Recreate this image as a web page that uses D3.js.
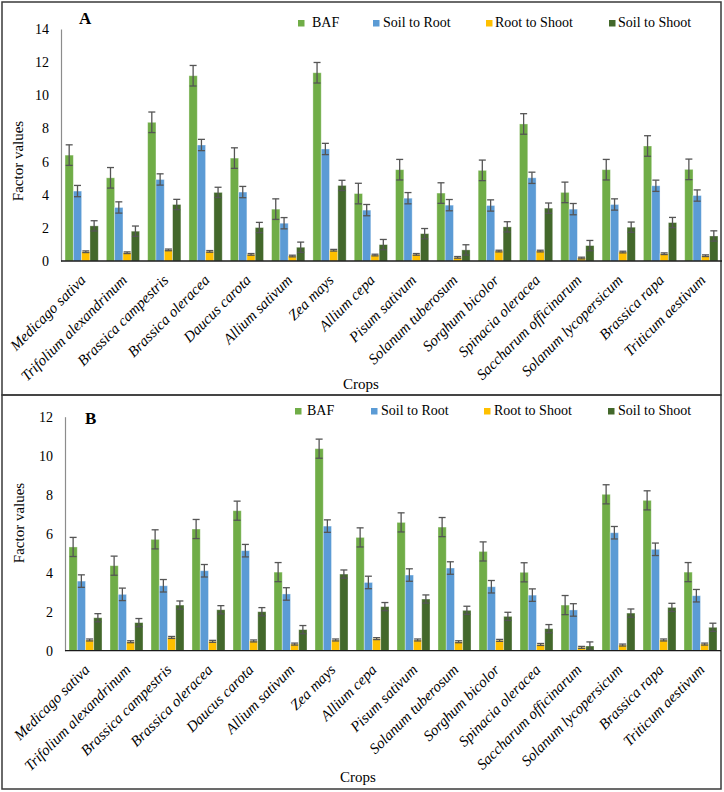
<!DOCTYPE html>
<html><head><meta charset="utf-8">
<script src="https://cdn.jsdelivr.net/npm/d3@7/dist/d3.min.js"></script>
<style>body{margin:0;background:#fff}svg{display:block}</style>
</head><body>
<svg id="c" width="724" height="792"></svg>
<script>
const crops = ["Medicago sativa","Trifolium alexandrinum","Brassica campestris","Brassica oleracea","Daucus carota","Allium sativum","Zea mays","Allium cepa","Pisum sativum","Solanum tuberosum","Sorghum bicolor","Spinacia oleracea","Saccharum officinarum","Solanum lycopersicum","Brassica rapa","Triticum aestivum"];
const seriesNames = ["BAF","Soil to Root","Root to Shoot","Soil to Shoot"];
const seriesColors = ["#70AD47","#5B9BD5","#FFC000","#43682B"];

// Panel A
const aBAF = [6.39,5.02,8.37,11.18,6.21,3.13,11.36,4.07,5.51,4.10,5.47,8.27,4.14,5.51,6.94,5.53];
const aSR  = [4.22,3.23,4.92,7.00,4.16,2.28,6.76,3.07,3.79,3.37,3.35,5.02,3.13,3.41,4.54,3.95];
const aRS  = [0.56,0.50,0.67,0.58,0.40,0.30,0.65,0.36,0.40,0.22,0.60,0.60,0.18,0.54,0.44,0.32];
const aSS  = [2.12,1.80,3.41,4.14,2.02,0.83,4.56,0.99,1.65,0.67,2.06,3.19,0.93,2.04,2.32,1.51];
const aErr = [0.62,0.34,0.05,0.31];
const aTicks = [0,2,4,6,8,10,12,14];

// Panel B
const bBAF = [5.32,4.36,5.71,6.24,7.18,4.03,10.36,5.81,6.58,6.34,5.09,4.02,2.34,8.02,7.71,4.03];
const bSR  = [3.57,2.89,3.33,4.10,5.13,2.91,6.39,3.50,3.88,4.24,3.28,2.85,2.09,6.05,5.20,2.82];
const bRS  = [0.55,0.46,0.68,0.48,0.50,0.34,0.55,0.62,0.55,0.46,0.53,0.32,0.17,0.29,0.55,0.34];
const bSS  = [1.69,1.44,2.34,2.10,2.00,1.08,3.93,2.26,2.65,2.07,1.76,1.13,0.24,1.93,2.22,1.20];
const bErr = [0.49,0.32,0.05,0.21];
const bTicks = [0,2,4,6,8,10,12];

const svg = d3.select("#c");
const serif = "'Liberation Serif','Times New Roman',serif";

function panel(cfg){
  const g = svg.append("g");
  // frame
  g.append("rect").attr("x",cfg.frame[0]).attr("y",cfg.frame[1])
    .attr("width",cfg.frame[2]).attr("height",cfg.frame[3])
    .attr("fill","none").attr("stroke","#3a3a3a").attr("stroke-width",1.5);

  const x0 = d3.scaleBand().domain(crops).range([cfg.left,cfg.right]).paddingInner(0.195).paddingOuter(0.0975);
  const x1 = d3.scaleBand().domain(seriesNames).range([0,x0.bandwidth()]);
  const y = d3.scaleLinear().domain([0,cfg.max]).range([cfg.bottom,cfg.top]);

  const data = cfg.series;
  // y axis
  const ya = g.append("g").attr("transform",`translate(${cfg.left},0)`)
    .call(d3.axisLeft(y).tickValues(cfg.ticks).tickSize(0).tickPadding(cfg.tickPad));
  ya.select(".domain").attr("stroke","#8c8c8c").attr("stroke-width",1.2);
  ya.selectAll("text").attr("font-family",serif).attr("font-size",14).attr("fill","#000");

  // bars
  seriesNames.forEach((s,si)=>{
    g.append("g").selectAll("rect").data(data[si]).join("rect")
      .attr("x",(d,i)=>x0(crops[i])+x1(s))
      .attr("y",d=>y(d))
      .attr("width",x1.bandwidth())
      .attr("height",d=>y(0)-y(d))
      .attr("fill",seriesColors[si])
      .attr("stroke","rgba(255,255,255,0.45)").attr("stroke-width",0.8);
  });
  // error bars
  seriesNames.forEach((s,si)=>{
    const e = cfg.err[si];
    const eg = g.append("g").attr("stroke","#555").attr("stroke-width",1.3).attr("fill","none");
    data[si].forEach((d,i)=>{
      const cx = x0(crops[i])+x1(s)+x1.bandwidth()/2;
      const lo = Math.max(0,d-e), hi = d+e;
      eg.append("line").attr("x1",cx).attr("x2",cx).attr("y1",y(lo)).attr("y2",y(hi));
      eg.append("line").attr("x1",cx-3.5).attr("x2",cx+3.5).attr("y1",y(hi)).attr("y2",y(hi));
      eg.append("line").attr("x1",cx-3.5).attr("x2",cx+3.5).attr("y1",y(lo)).attr("y2",y(lo));
    });
  });
  // x axis line
  g.append("line").attr("x1",cfg.left).attr("x2",cfg.right).attr("y1",y(0)).attr("y2",y(0))
    .attr("stroke","#1a1a1a").attr("stroke-width",1.3);
  // x labels
  g.append("g").selectAll("text").data(crops).join("text")
    .attr("transform",d=>`translate(${x0(d)+x0.bandwidth()/2+cfg.lblDx},${y(0)+cfg.lblDy}) rotate(-45)`)
    .attr("text-anchor","end").attr("font-family",serif).attr("font-style","italic")
    .attr("font-size",15).attr("fill","#000").text(d=>d);

  // axis titles
  g.append("text").attr("transform",`translate(${cfg.yTitle[0]},${cfg.yTitle[1]}) rotate(-90)`)
    .attr("text-anchor","middle").attr("font-family",serif).attr("font-size",15).text("Factor values");
  g.append("text").attr("x",cfg.xTitle[0]).attr("y",cfg.xTitle[1])
    .attr("text-anchor","middle").attr("font-family",serif).attr("font-size",15).text("Crops");
  // panel letter
  g.append("text").attr("x",cfg.letterPos[0]).attr("y",cfg.letterPos[1])
    .attr("font-family",serif).attr("font-weight","bold").attr("font-size",17).text(cfg.letter);
  // legend
  seriesNames.forEach((s,si)=>{
    const lx = cfg.legX[si];
    g.append("rect").attr("x",lx).attr("y",cfg.legY-7).attr("width",6.5).attr("height",6.5).attr("fill",seriesColors[si]);
    g.append("text").attr("x",lx+cfg.legGap[si]).attr("y",cfg.legY).attr("font-family",serif)
      .attr("font-size",14).attr("fill","#000").text(s);
  });
}

panel({frame:[2,2,719,393], left:61, right:722, top:29, bottom:261, max:14, ticks:aTicks, tickPad:12,
  series:[aBAF,aSR,aRS,aSS], err:aErr, lblDx:5, lblDy:20,
  yTitle:[23,161], xTitle:[361,389], letter:"A", letterPos:[79,24],
  legX:[298,373,486,609], legGap:[14,10,9,9], legY:27});
panel({frame:[2,395,719,394], left:65, right:721, top:416.7, bottom:650.7, max:12, ticks:bTicks, tickPad:12,
  series:[bBAF,bSR,bRS,bSS], err:bErr, lblDx:5, lblDy:20,
  yTitle:[24,523], xTitle:[358,782], letter:"B", letterPos:[85,424],
  legX:[295,371,484,608], legGap:[12,10,10,10], legY:415});
</script>
</body></html>
